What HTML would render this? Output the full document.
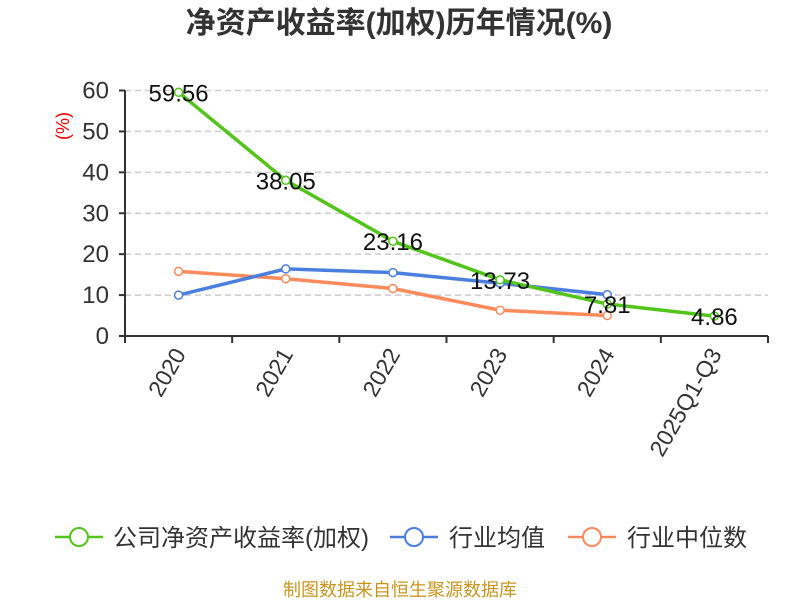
<!DOCTYPE html>
<html><head><meta charset="utf-8"><style>
body{margin:0;background:#fff;}
svg{display:block;font-family:"Liberation Sans","Noto Sans CJK SC",sans-serif;}
</style></head><body>
<svg id="chart" width="800" height="600">
<text x="399" y="33" text-anchor="middle" font-size="30" font-weight="bold" fill="#333">净资产收益率(加权)历年情况(%)</text>
<text transform="translate(69,126) rotate(-90)" text-anchor="middle" font-size="18" fill="#e00">(%)</text>
<g id="grid"></g><g id="axes"></g><g id="series"></g>
<g>
 <g><line x1="55" y1="537" x2="103" y2="537" stroke="#52c41a" stroke-width="2.5"/><circle cx="79" cy="537" r="9" fill="#fff" stroke="#52c41a" stroke-width="2"/><text x="113" y="546" font-size="24" fill="#333">公司净资产收益率(加权)</text></g>
 <g><line x1="390" y1="537" x2="438" y2="537" stroke="#4a7fe0" stroke-width="2.5"/><circle cx="414" cy="537" r="9" fill="#fff" stroke="#4a7fe0" stroke-width="2"/><text x="449" y="546" font-size="24" fill="#333">行业均值</text></g>
 <g><line x1="568" y1="537" x2="616" y2="537" stroke="#ff8a5b" stroke-width="2.5"/><circle cx="592" cy="537" r="9" fill="#fff" stroke="#ff8a5b" stroke-width="2"/><text x="627" y="546" font-size="24" fill="#333">行业中位数</text></g>
</g>
<text x="400" y="596" text-anchor="middle" font-size="18" fill="#c8961e">制图数据来自恒生聚源数据库</text>
</svg>
<script>
const categories=["2020","2021","2022","2023","2024","2025Q1-Q3"];
const companyValues=[59.56,38.05,23.16,13.73,7.81,4.86];
const industryAvg=[10.0,16.4,15.5,12.9,10.1];
const industryMedian=[15.8,14.0,11.6,6.3,5.0];
const yTicks=[0,10,20,30,40,50,60];
const NS="http://www.w3.org/2000/svg";
const x0=125,x1=768,y0=336,y60=90.5;
const bw=(x1-x0)/categories.length;
const xs=i=>x0+bw*(i+0.5);
const ys=v=>y0-(v/60)*(y0-y60);
function mk(t,a,p){const e=document.createElementNS(NS,t);for(const k in a)e.setAttribute(k,a[k]);p.appendChild(e);return e;}
const grid=document.getElementById('grid'),axes=document.getElementById('axes'),ser=document.getElementById('series');
yTicks.forEach(v=>{
 if(v>0){const g=mk('line',{x1:x0,x2:x1,y1:ys(v),y2:ys(v),stroke:'#ccc','stroke-dasharray':'6,4','stroke-width':1.5},grid);
 
 }
 mk('line',{x1:x0-6,x2:x0,y1:ys(v),y2:ys(v),stroke:'#333','stroke-width':2},axes);
 const t=mk('text',{x:x0-16,y:ys(v)+8,'text-anchor':'end','font-size':24,fill:'#333'},axes);t.textContent=v;
 
 
});
mk('line',{x1:x0,x2:x0,y1:y60,y2:y0,stroke:'#333','stroke-width':2},axes);
mk('line',{x1:x0,x2:x1,y1:y0,y2:y0,stroke:'#333','stroke-width':2},axes);
for(let i=0;i<=categories.length;i++)mk('line',{x1:x0+bw*i,x2:x0+bw*i,y1:y0,y2:y0+7,stroke:'#333','stroke-width':2},axes);
categories.forEach((c,i)=>{
 const t=mk('text',{transform:`translate(${xs(i)+8},${y0+18}) rotate(-60)`,'text-anchor':'end','font-size':23,fill:'#333'},axes);t.textContent=c;
 
 
});
function series(vals,color,name,labels){
 const g=mk('g',{},ser);
 
 
 mk('polyline',{points:vals.map((v,i)=>xs(i)+','+ys(v)).join(' '),fill:'none',stroke:color,'stroke-width':3.5},g);
 vals.forEach((v,i)=>{
  const c=mk('circle',{cx:xs(i),cy:ys(v),r:4,fill:'#fff',stroke:color,'stroke-width':1.5},g);
  
  
  if(labels){const t=mk('text',{x:xs(i),y:ys(v)+9,'text-anchor':'middle','font-size':24,fill:'#111'},g);t.textContent=v.toFixed(2);
  
  }
 });
}
series(industryMedian,'#ff8a5b','industry-median-line',false);
series(industryAvg,'#4a7fe0','industry-avg-line',false);
series(companyValues,'#52c41a','company-roe-line',true);
</script>
</body></html>
